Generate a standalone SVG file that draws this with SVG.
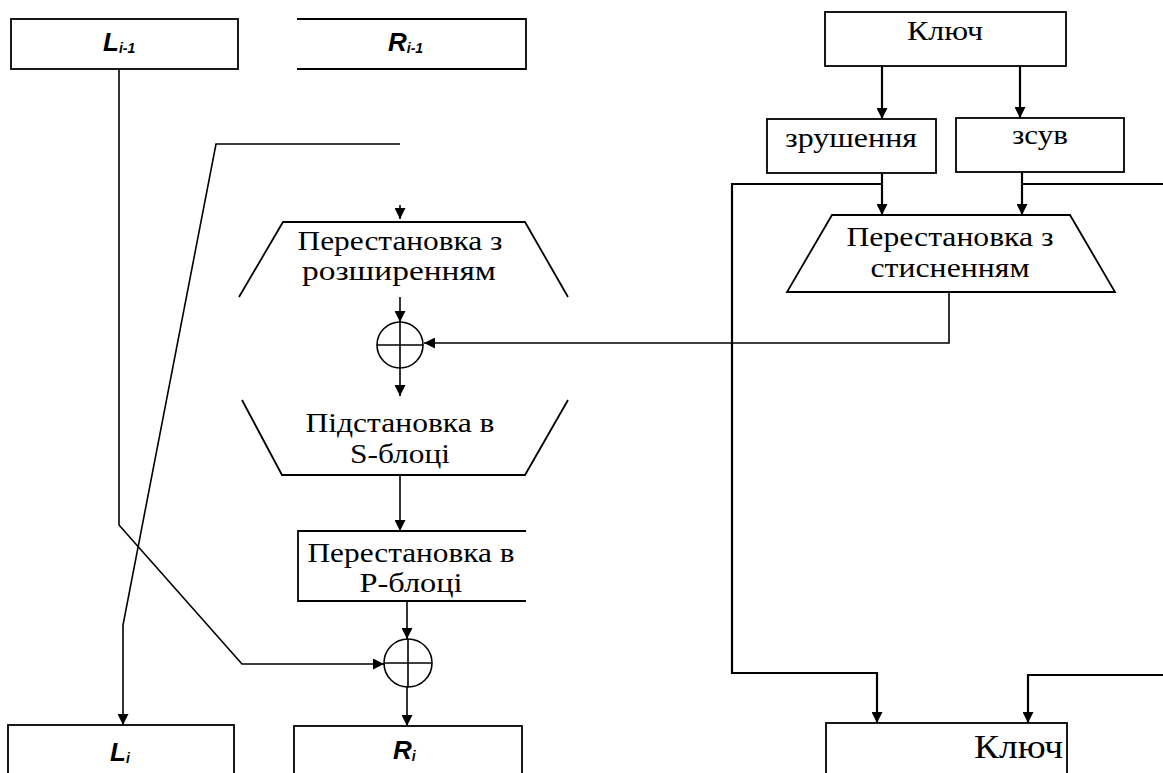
<svg xmlns="http://www.w3.org/2000/svg" width="1163" height="773" viewBox="0 0 1163 773">
<style>
.b{fill:#fff;stroke:#000;stroke-width:1.8}
.o{fill:none;stroke:#000;stroke-width:1.8}
.c{fill:none;stroke:#000;stroke-width:1.6}
.k{fill:none;stroke:#000;stroke-width:2.2}
.t{font-family:"Liberation Serif","Times New Roman",serif;font-size:28px;fill:#000;text-anchor:middle}
.s{font-family:"Liberation Sans",Arial,sans-serif;font-weight:bold;font-style:italic;fill:#000;font-size:26px}
.u{font-size:14px}
</style>
<defs>
<marker id="ar" viewBox="0 0 12 12" refX="12" refY="6" markerWidth="12" markerHeight="11" markerUnits="userSpaceOnUse" orient="auto">
<path d="M0,0 L12,6 L0,12 z" fill="#000"/>
</marker>
</defs>

<g id="connectors">
<path class="c" d="M119,69 V525 L242,664 H384" marker-end="url(#ar)"/>
<path class="c" d="M400,144 H216 L123,625 V725" marker-end="url(#ar)"/>
<path class="c" d="M400,205 V219" marker-end="url(#ar)"/>
<path class="c" d="M400,297 V322" marker-end="url(#ar)"/>
<path class="c" d="M400,368 V396" marker-end="url(#ar)"/>
<path class="c" d="M400,475 V531" marker-end="url(#ar)"/>
<path class="c" d="M407,601 V639" marker-end="url(#ar)"/>
<path class="c" d="M407,687 V726" marker-end="url(#ar)"/>
<path class="c" d="M949,292 V343 H424" marker-end="url(#ar)"/>
<path class="k" d="M882,66 V119" marker-end="url(#ar)"/>
<path class="k" d="M1020,66 V118" marker-end="url(#ar)"/>
<path class="k" d="M882,173 V215" marker-end="url(#ar)"/>
<path class="k" d="M1022,172 V215" marker-end="url(#ar)"/>
<path class="k" d="M882,184 H732 V673 H877 V723" marker-end="url(#ar)"/>
<path class="k" d="M1022,184 H1163"/>
<path class="k" d="M1163,675 H1028 V723" marker-end="url(#ar)"/>
</g>

<g id="L_prev">
<rect class="b" x="11" y="19" width="227" height="50"/>
<text class="s" x="103" y="51">L<tspan class="u" dy="2">i-1</tspan></text>
</g>

<g id="R_prev">
<path class="o" d="M297,19 H526 V69 H297"/>
<text class="s" x="388" y="51">R<tspan class="u" dy="2">i-1</tspan></text>
</g>

<g id="expansion">
<path class="o" d="M239,297 L283,222 H525 L568,297"/>
<text class="t" x="400" y="250" textLength="205" lengthAdjust="spacingAndGlyphs">Перестановка з</text>
<text class="t" x="399" y="280" textLength="194" lengthAdjust="spacingAndGlyphs">розширенням</text>
</g>

<g id="xor1">
<circle class="c" cx="400" cy="345" r="23"/>
<path class="c" d="M400,322 V368 M377,345 H423"/>
</g>

<g id="sbox">
<path class="o" d="M242,400 L282,475 H525 L568,400"/>
<text class="t" x="400" y="432" textLength="189" lengthAdjust="spacingAndGlyphs">Підстановка в</text>
<text class="t" x="400" y="463" textLength="100" lengthAdjust="spacingAndGlyphs">S-блоці</text>
</g>

<g id="pbox">
<path class="o" d="M526,531 H298 V601 H526"/>
<text class="t" x="411" y="562" textLength="207" lengthAdjust="spacingAndGlyphs">Перестановка в</text>
<text class="t" x="411" y="592" textLength="103" lengthAdjust="spacingAndGlyphs">Р-блоці</text>
</g>

<g id="xor2">
<circle class="c" cx="408" cy="663" r="24"/>
<path class="c" d="M408,639 V687 M384,663 H432"/>
</g>

<g id="L_new">
<rect class="b" x="8" y="725" width="226" height="60"/>
<text class="s" x="110" y="761">L<tspan class="u" dy="2">i</tspan></text>
</g>

<g id="R_new">
<rect class="b" x="294" y="726" width="228" height="60"/>
<text class="s" x="393" y="759">R<tspan class="u" dy="2">i</tspan></text>
</g>

<g id="key_top">
<rect class="b" x="825" y="12" width="241" height="54"/>
<text class="t" x="945" y="40" textLength="76" lengthAdjust="spacingAndGlyphs">Ключ</text>
</g>

<g id="shift1">
<rect class="b" x="767" y="119" width="169" height="54"/>
<text class="t" x="851" y="147" textLength="132" lengthAdjust="spacingAndGlyphs">зрушення</text>
</g>

<g id="shift2">
<rect class="b" x="956" y="118" width="168" height="54"/>
<text class="t" x="1040" y="144" textLength="56" lengthAdjust="spacingAndGlyphs">зсув</text>
</g>

<g id="compression">
<polygon class="b" points="832,215 1070,215 1115,292 787,292"/>
<text class="t" x="950" y="246" textLength="207" lengthAdjust="spacingAndGlyphs">Перестановка з</text>
<text class="t" x="950" y="277" textLength="159" lengthAdjust="spacingAndGlyphs">стисненням</text>
</g>

<g id="key_bottom">
<rect class="b" x="826" y="723" width="241" height="60"/>
<text class="t" x="1063" y="758" style="text-anchor:end;font-size:34px" textLength="89" lengthAdjust="spacingAndGlyphs">Ключ</text>
</g>
</svg>
